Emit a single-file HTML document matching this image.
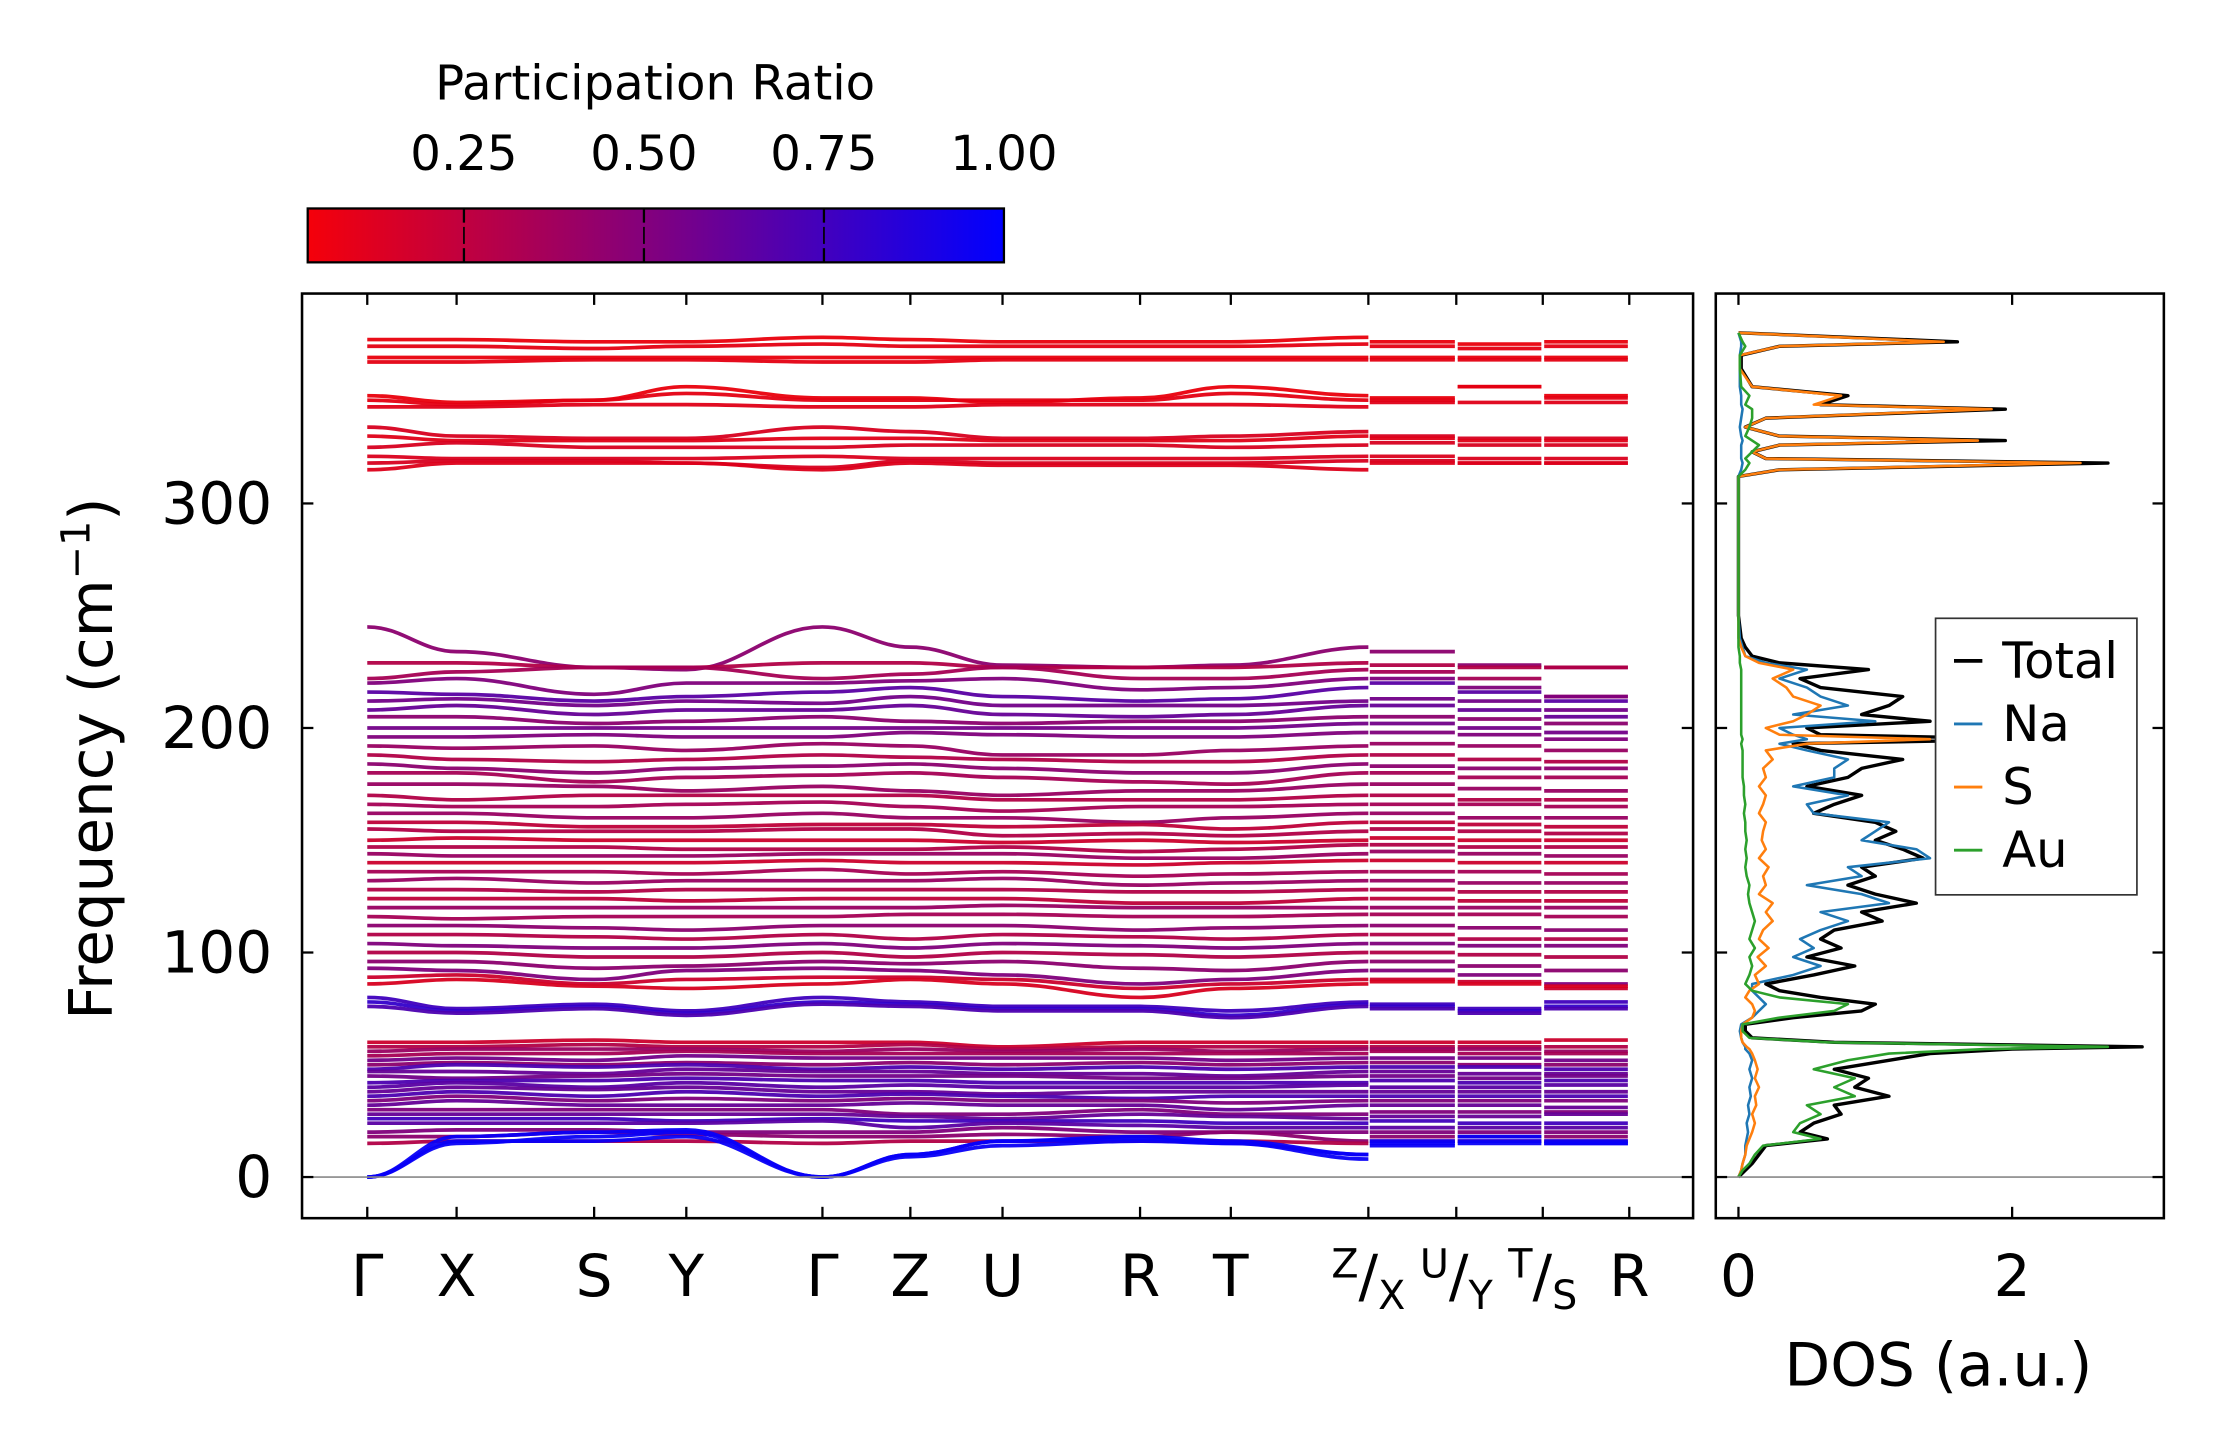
<!DOCTYPE html>
<html><head><meta charset="utf-8"><style>
html,body{margin:0;padding:0;background:#fff;}
svg{display:block;font-family:"DejaVu Sans","Liberation Sans",sans-serif;}
</style></head><body>
<svg id="fig" width="2222" height="1455" viewBox="0 0 1567 1026" preserveAspectRatio="none" xmlns="http://www.w3.org/2000/svg">
<defs>
<linearGradient id="cbgrad" x1="0" x2="1" y1="0" y2="0">
<stop offset="0" stop-color="#f5000a"/><stop offset="0.5" stop-color="#800080"/><stop offset="1" stop-color="#0000ff"/>
</linearGradient>
<clipPath id="mainclip"><rect x="213" y="207" width="981" height="652"/></clipPath>
<clipPath id="dosclip"><rect x="1210" y="207" width="316" height="652"/></clipPath>
</defs>
<g id="colorbar">
<text x="462" y="70" font-size="34" text-anchor="middle">Participation Ratio</text>
<rect x="217" y="147" width="491" height="38" fill="url(#cbgrad)" stroke="#000" stroke-width="1.6"/>
</g>
<g id="bands" clip-path="url(#mainclip)"></g>
<g id="dos" clip-path="url(#dosclip)"></g>
<g id="axes"></g>
<g id="legend"></g>
</svg>
<script>
const kLabels = ["Γ","X","S","Y","Γ","Z","U","R","T"];
const breakLabels = [["Z","X"],["U","Y"],["T","S"]];
const endLabel = "R";
const yTicks = [0,100,200,300];
const cbTicks = [0.25,0.50,0.75,1.00];
const dosTicks = [0,2];
const bandsHigh = [
[373,373,372,372,374,373,372,372,372,374,372,371,372],
[370,370,369,370,371,370,370,370,370,371,370,369,370],
[365,365,365,365,365,365,365,365,365,365,365,365,365],
[363,363,364,364,363,363,364,364,364,364,364,364,364],
[348,345,346,352,347,347,345,347,352,348,347,352,348],
[346,344,346,349,346,346,346,346,349,346,346,352,347],
[343,343,344,344,343,343,344,344,344,343,345,345,345],
[334,330,329,329,334,332,329,329,330,332,330,329,329],
[330,328,328,328,329,329,328,328,328,330,329,328,328],
[325,327,325,325,325,326,326,326,325,326,327,326,326],
[321,320,320,320,321,320,320,320,320,321,321,320,320],
[318,319,319,318,316,319,318,318,318,319,319,318,318],
[315,318,318,318,315,318,317,317,317,315,318,318,318]];
const prHigh = [0.08,0.1,0.08,0.1,0.08,0.1,0.12,0.15,0.12,0.15,0.14,0.15,0.13];
const bandsMid = [
[245,234,227,226,245,236,228,227,228,236,234,228,227],
[229,229,227,227,229,229,227,227,227,229,228,227,227],
[222,225,227,227,222,224,227,222,222,226,225,222,214],
[220,222,215,220,220,221,222,217,218,222,222,218,214],
[216,215,212,214,216,218,214,212,213,218,220,216,212],
[212,213,210,212,211,214,210,210,210,212,213,212,208],
[208,210,206,208,208,210,206,205,206,210,210,208,205],
[205,205,202,203,205,203,202,203,203,205,205,204,202],
[200,200,200,200,200,200,200,200,200,202,202,200,198],
[196,196,197,196,196,198,197,196,196,198,198,197,195],
[192,191,192,190,193,192,188,188,190,192,193,192,190],
[188,186,185,186,188,187,186,185,185,188,188,186,185],
[184,182,180,182,183,184,182,180,180,184,183,182,182],
[180,180,176,178,179,180,178,176,175,180,180,178,178],
[175,175,174,172,174,172,170,172,172,175,175,173,172],
[170,168,170,170,170,170,168,168,168,170,170,168,168],
[166,165,165,166,167,165,163,165,165,166,166,166,165],
[162,162,160,160,162,160,160,158,160,162,162,160,160],
[158,158,156,156,157,157,156,157,155,158,158,157,156],
[155,154,154,154,155,155,152,153,152,154,155,154,153],
[150,151,150,150,150,150,149,150,149,150,151,150,150],
[147,147,147,146,146,146,147,145,146,148,148,147,147],
[144,143,143,143,144,144,144,142,142,144,145,144,143],
[140,140,140,140,141,140,140,139,140,141,141,140,140],
[136,136,136,135,137,135,136,134,135,136,136,136,135],
[132,133,131,132,132,132,133,130,131,132,132,131,131],
[128,128,127,128,128,128,128,127,127,128,128,127,127],
[124,124,124,123,124,124,124,122,122,124,124,123,123],
[120,120,120,120,120,120,121,120,120,120,120,120,120],
[116,115,116,116,116,117,117,116,116,117,117,117,116],
[112,112,111,110,112,112,112,110,111,112,112,111,110],
[108,108,107,106,108,106,108,107,106,108,108,106,106],
[104,103,102,102,104,102,104,103,102,104,104,103,103],
[100,100,98,98,100,98,100,99,98,100,100,99,98],
[96,96,93,94,96,95,96,93,92,96,96,94,92],
[93,92,88,92,93,92,90,86,88,92,92,90,86],
[89,90,86,88,89,89,88,84,86,88,88,87,84],
[86,88,85,84,86,88,86,80,84,86,87,86,85],
[80,75,77,74,80,78,76,76,74,78,77,75,78],
[78,74,76,73,78,77,75,75,72,77,76,74,76],
[76,73,75,72,77,76,74,74,71,76,75,73,75]];
const prMid = [0.45,0.3,0.35,0.5,0.65,0.55,0.6,0.45,0.55,0.5,0.4,0.3,0.45,0.35,0.4,0.3,0.35,0.4,0.25,0.3,0.2,0.3,0.4,0.2,0.35,0.4,0.3,0.25,0.4,0.35,0.45,0.3,0.5,0.3,0.45,0.5,0.2,0.15,0.75,0.8,0.7];
const bandsLow = [
[60,60,61,60,60,60,58,60,60,60,60,60,61],
[58,58,59,58,58,59,57,58,58,58,58,58,58],
[56,57,57,57,56,57,56,57,56,57,57,57,56],
[54,55,55,56,55,55,55,55,55,55,56,55,55],
[52,53,52,54,53,53,53,53,52,53,53,53,52],
[50,51,50,51,50,51,50,51,50,51,51,50,50],
[48,50,49,50,48,49,48,49,48,49,49,49,48],
[47,47,46,48,47,47,46,46,45,47,47,46,46],
[45,44,45,46,45,45,45,44,44,45,45,44,45],
[42,43,43,44,43,43,42,42,42,42,43,42,43],
[40,42,40,42,40,41,40,40,40,41,40,40,41],
[38,40,39,40,38,38,37,38,38,38,38,38,38],
[36,38,36,38,36,37,36,35,36,36,36,36,36],
[34,36,34,35,34,35,34,34,33,34,34,34,34],
[32,34,32,32,32,33,32,32,30,32,32,32,31],
[30,30,30,30,30,28,28,30,28,28,29,29,29],
[28,28,28,28,28,27,26,28,27,26,27,27,28],
[26,26,26,25,26,25,25,25,24,24,25,24,24],
[24,24,24,24,25,22,24,23,22,22,22,22,22],
[20,21,21,20,20,20,22,20,20,20,20,20,20],
[18,18,20,19,18,18,19,18,20,16,18,18,18],
[15,16,16,16,15,16,16,16,16,15,16,16,16],
[0,18,20,21,0,10,16,18,16,10,16,18,16],
[0,15,18,20,0,10,16,17,15,10,15,16,15],
[0,16,16,18,0,9,14,16,15,8,14,15,15]];
const prLow = [0.2,0.3,0.4,0.35,0.55,0.45,0.7,0.6,0.55,0.7,0.65,0.6,0.7,0.5,0.6,0.5,0.6,0.75,0.65,0.5,0.45,0.3,0.97,0.97,0.97];

const dosFreq = [0,3,6,10,14,17,20,24,28,32,36,40,44,48,52,55,57,58,60,62,65,68,71,74,77,80,83,86,90,94,98,102,106,110,114,118,122,126,130,134,138,142,146,150,154,158,162,166,170,174,178,182,186,190,193,195,197,200,203,206,210,214,218,222,226,229,232,236,240,250,300,312,315,318,320,323,326,328,330,334,338,342,344,348,352,360,366,370,372,376];
const dosTotal = [0,0.05,0.1,0.15,0.2,0.65,0.45,0.55,0.75,0.7,1.1,0.85,0.95,0.7,1.1,1.4,2.0,2.95,0.7,0.1,0.05,0.05,0.4,0.9,1.0,0.6,0.3,0.2,0.55,0.85,0.5,0.75,0.6,0.7,1.05,0.9,1.3,1.0,0.8,1.0,0.9,1.35,1.2,1.0,1.15,1.0,0.55,0.7,0.9,0.5,0.8,0.9,1.2,0.6,0.4,2.2,0.6,0.5,1.4,0.9,1.1,1.2,0.6,0.45,0.95,0.3,0.1,0.05,0.02,0,0,0,0.3,2.7,0.2,0.1,0.3,1.95,0.3,0.05,0.2,1.95,0.6,0.8,0.1,0.02,0.02,0.3,1.6,0];
const dosNa = [0,0.02,0.03,0.05,0.05,0.06,0.07,0.06,0.08,0.07,0.09,0.08,0.1,0.08,0.1,0.08,0.05,0.05,0.03,0.02,0.01,0.02,0.1,0.15,0.2,0.15,0.1,0.1,0.4,0.6,0.4,0.55,0.45,0.6,0.8,0.6,1.1,0.9,0.5,0.9,0.8,1.4,1.3,0.9,1.0,1.1,0.55,0.5,0.8,0.4,0.7,0.7,0.8,0.5,0.3,0.5,0.4,0.3,1.0,0.4,0.8,0.6,0.5,0.3,0.5,0.2,0.05,0.03,0.01,0,0,0,0.02,0.03,0.02,0.02,0.02,0.03,0.02,0.01,0.02,0.03,0.02,0.02,0.01,0.01,0.01,0.02,0.02,0];
const dosS = [0,0.02,0.03,0.05,0.06,0.08,0.1,0.12,0.1,0.13,0.12,0.15,0.12,0.14,0.12,0.1,0.08,0.06,0.03,0.02,0.02,0.03,0.1,0.12,0.1,0.05,0.08,0.15,0.12,0.2,0.14,0.22,0.15,0.18,0.25,0.2,0.25,0.15,0.2,0.18,0.22,0.15,0.2,0.17,0.18,0.2,0.15,0.18,0.2,0.15,0.2,0.18,0.25,0.2,0.5,1.4,0.3,0.2,0.4,0.5,0.6,0.4,0.35,0.25,0.4,0.15,0.05,0.02,0,0,0,0,0.3,2.5,0.2,0.1,0.3,1.75,0.3,0.05,0.2,1.85,0.55,0.75,0.1,0.01,0.01,0.3,1.5,0];
const dosAu = [0,0.03,0.08,0.12,0.18,0.6,0.4,0.45,0.6,0.5,0.85,0.7,0.85,0.55,0.8,1.1,1.8,2.7,0.65,0.08,0.03,0.03,0.3,0.7,0.8,0.3,0.1,0.05,0.08,0.1,0.08,0.12,0.08,0.1,0.12,0.1,0.08,0.07,0.08,0.06,0.05,0.06,0.05,0.06,0.05,0.05,0.04,0.05,0.04,0.04,0.03,0.03,0.03,0.03,0.02,0.03,0.02,0.02,0.02,0.02,0.02,0.02,0.02,0.02,0.02,0.01,0.01,0,0,0,0,0,0.05,0.08,0.05,0.1,0.15,0.1,0.05,0.08,0.1,0.1,0.05,0.08,0.02,0.01,0.01,0.05,0.03,0];

const NS = "http://www.w3.org/2000/svg";
const main = {x0:213, x1:1194, y0:207, y1:859};
const dosAx = {x0:1210, x1:1526};
const kPos = [259,322,419,484,580,642,707,804,868,965];
const flatPos = [[965,1027],[1027,1088],[1088,1149]];
const yScale = f => 830 - f * 1.5833;
const xDos = v => 1226 + v * 96.5;
const cbX = v => 217 + (v - 0.033) / (1 - 0.033) * 491;
function prColor(p){const t=Math.max(0,Math.min(1,(p-0.033)/(0.967)));const r=Math.round(245*(1-t)),b=Math.round(255*t);return `rgb(${r},0,${b})`;}
function mk(tag, attrs, parent){const e=document.createElementNS(NS,tag);for(const k in attrs)e.setAttribute(k,attrs[k]);parent.appendChild(e);return e;}

const gB = document.getElementById('bands');
function drawBands(list, prs, prefix){
  list.forEach((b, i) => {
    let d = `M${kPos[0]},${yScale(b[0])}`;
    for (let j = 1; j < kPos.length; j++) {
      const xa = kPos[j-1], xb = kPos[j], ya = yScale(b[j-1]), yb = yScale(b[j]);
      const dx = (xb - xa) * 0.4;
      d += ` C${xa+dx},${ya} ${xb-dx},${yb} ${xb},${yb}`;
    }
    for (let s = 0; s < 3; s++) {
      const y = yScale(b[10+s]);
      d += ` M${flatPos[s][0]+1},${y} L${flatPos[s][1]-1},${y}`;
    }
    const p = mk('path', {d:d, fill:'none', stroke:prColor(prs[i]), 'stroke-width':2.6, 'stroke-opacity':0.95}, gB);
    
    
  });
}
drawBands(bandsLow, prLow, 'acoustic');
drawBands(bandsMid, prMid, 'mid');
drawBands(bandsHigh, prHigh, 'high');

const gD = document.getElementById('dos');
function dosPath(vals, color, name, w){
  let d = '';
  vals.forEach((v, i) => { d += (i ? ' L' : 'M') + xDos(v) + ',' + yScale(dosFreq[i]); });
  const p = mk('path', {d:d, fill:'none', stroke:color, 'stroke-width':w, 'stroke-linejoin':'round'}, gD);
  
  
}
dosPath(dosTotal, '#000000', 'dos-total-line', 2.4);
dosPath(dosNa, '#1f77b4', 'dos-na-line', 1.8);
dosPath(dosS, '#ff7f0e', 'dos-s-line', 1.8);
dosPath(dosAu, '#2ca02c', 'dos-au-line', 1.8);

const gA = document.getElementById('axes');
let z = mk('line', {x1:main.x0, x2:main.x1, y1:yScale(0), y2:yScale(0), stroke:'#888', 'stroke-width':1.2}, gA);
 
z = mk('line', {x1:dosAx.x0, x2:dosAx.x1, y1:yScale(0), y2:yScale(0), stroke:'#888', 'stroke-width':1.2}, gA);
 
let fr = mk('rect', {x:main.x0, y:main.y0, width:main.x1-main.x0, height:main.y1-main.y0, fill:'none', stroke:'#000', 'stroke-width':1.8}, gA);
 
fr = mk('rect', {x:dosAx.x0, y:main.y0, width:dosAx.x1-dosAx.x0, height:main.y1-main.y0, fill:'none', stroke:'#000', 'stroke-width':1.8}, gA);
 
const TL = 8;
yTicks.forEach(v => {
  const y = yScale(v);
  mk('line', {x1:main.x0, x2:main.x0+TL, y1:y, y2:y, stroke:'#000', 'stroke-width':1.6}, gA);
  mk('line', {x1:main.x1, x2:main.x1-TL, y1:y, y2:y, stroke:'#000', 'stroke-width':1.6}, gA);
  mk('line', {x1:dosAx.x0, x2:dosAx.x0+TL, y1:y, y2:y, stroke:'#000', 'stroke-width':1.6}, gA);
  mk('line', {x1:dosAx.x1, x2:dosAx.x1-TL, y1:y, y2:y, stroke:'#000', 'stroke-width':1.6}, gA);
  const t = mk('text', {x:main.x0-21, y:y+14, 'font-size':41, 'text-anchor':'end'}, gA);
  t.textContent = v;
   
});
const allK = kPos.concat([1027,1088,1149]);
allK.forEach(x => {
  mk('line', {x1:x, x2:x, y1:main.y0, y2:main.y0+TL, stroke:'#000', 'stroke-width':1.6}, gA);
  mk('line', {x1:x, x2:x, y1:main.y1, y2:main.y1-TL, stroke:'#000', 'stroke-width':1.6}, gA);
});
kLabels.forEach((l, i) => {
  const t = mk('text', {x:kPos[i], y:914, 'font-size':41, 'text-anchor':'middle'}, gA);
  t.textContent = l;
   
});
[965,1027,1088].forEach((x, i) => {
  const t = mk('text', {x:x, y:914, 'font-size':41, 'text-anchor':'middle'}, gA);
   
  const a = mk('tspan', {'font-size':28, dy:-13}, t); a.textContent = breakLabels[i][0];
  const s = mk('tspan', {dy:13}, t); s.textContent = '/';
  const c = mk('tspan', {'font-size':28, dy:9}, t); c.textContent = breakLabels[i][1];
});
let tR = mk('text', {x:1149, y:914, 'font-size':41, 'text-anchor':'middle'}, gA);
tR.textContent = endLabel;
 
dosTicks.forEach(v => {
  const x = xDos(v);
  mk('line', {x1:x, x2:x, y1:main.y0, y2:main.y0+TL, stroke:'#000', 'stroke-width':1.6}, gA);
  mk('line', {x1:x, x2:x, y1:main.y1, y2:main.y1-TL, stroke:'#000', 'stroke-width':1.6}, gA);
  const t = mk('text', {x:x, y:914, 'font-size':41, 'text-anchor':'middle'}, gA);
  t.textContent = v;
   
});
let yl = mk('text', {x:0, y:0, 'font-size':42, 'text-anchor':'middle', transform:'translate(79,535) rotate(-90)'}, gA);
 
let a1 = mk('tspan', {}, yl); a1.textContent = 'Frequency (cm';
let a2 = mk('tspan', {'font-size':28, dy:-16}, yl); a2.textContent = '−1';
let a3 = mk('tspan', {dy:16}, yl); a3.textContent = ')';
let xl = mk('text', {x:1367, y:977, 'font-size':42, 'text-anchor':'middle'}, gA);
xl.textContent = 'DOS (a.u.)';
 

const gC = document.getElementById('colorbar');
cbTicks.forEach(v => {
  const x = cbX(v);
  if (v < 1) {
    mk('line', {x1:x, x2:x, y1:147, y2:157, stroke:'#000', 'stroke-width':1.6}, gC);
    mk('line', {x1:x, x2:x, y1:175, y2:185, stroke:'#000', 'stroke-width':1.6}, gC);
    mk('line', {x1:x, x2:x, y1:160, y2:172, stroke:'#000', 'stroke-width':1.2}, gC);
  }
  const t = mk('text', {x:x, y:120, 'font-size':34, 'text-anchor':'middle'}, gC);
  t.textContent = v.toFixed(2);
   
});

const gL = document.getElementById('legend');
const lb = mk('rect', {x:1365, y:436, width:142, height:195, fill:'#fff', stroke:'#333', 'stroke-width':1.2}, gL);
 
const legNames = ['Total','Na','S','Au'];
const legColors = ['#000000','#1f77b4','#ff7f0e','#2ca02c'];
legNames.forEach((n, i) => {
  const y = 466 + i * 44.5;
  const g = mk('g', {}, gL);
  
  
  mk('line', {x1:1378, x2:1398, y1:y, y2:y, stroke:legColors[i], 'stroke-width':i===0?2.6:2}, g);
  const t = mk('text', {x:1412, y:y+12, 'font-size':35}, g);
  t.textContent = n;
});
</script>
</body></html>
